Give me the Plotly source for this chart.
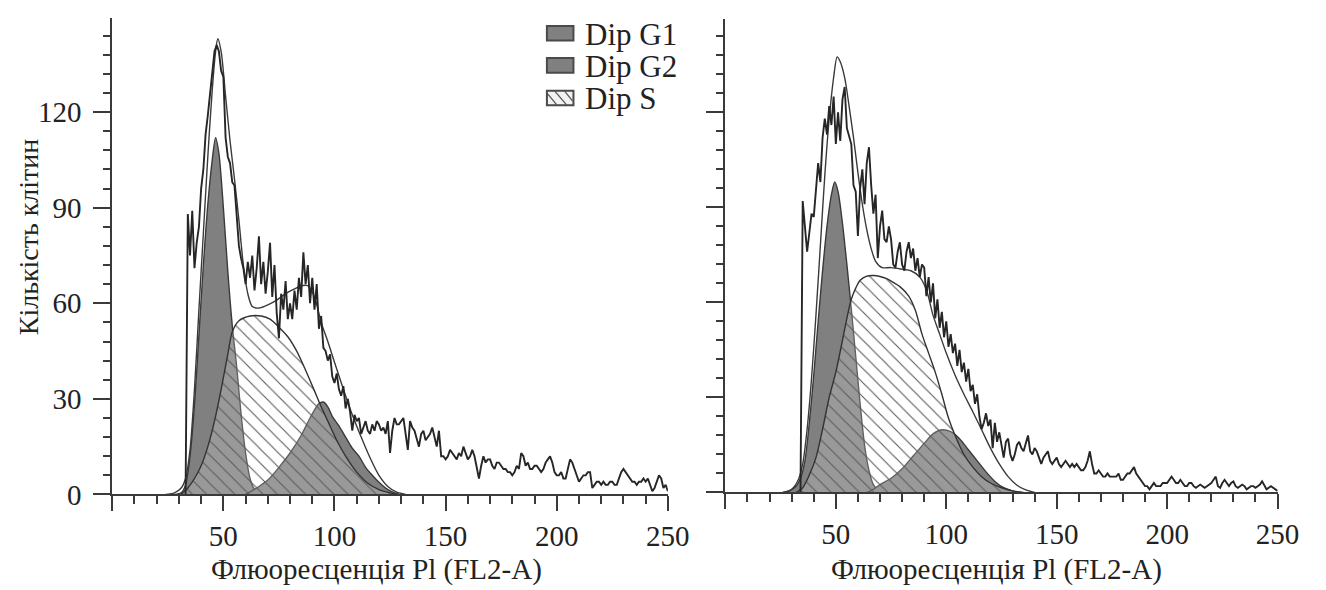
import plotly.graph_objects as go

# ---------------- DATA ----------------
# Left panel: raw histogram, channels 33..250
raw_left_x = list(range(33, 251))
raw_left_y = [
    0, 88, 75, 89, 71, 79, 84, 96, 102, 113,
    119, 126, 133, 139, 141, 139, 133, 131, 112, 106,
    104, 98, 97, 86, 78, 74, 71, 66, 73, 68,
    75, 64, 71, 81, 66, 73, 63, 70, 79, 62,
    72, 57, 49, 63, 58, 67, 55, 60, 55, 64,
    58, 68, 62, 76, 66, 72, 60, 68, 58, 66,
    52, 56, 46, 45, 42, 44, 37, 35, 38, 33,
    31, 34, 27, 30, 26, 20, 25, 23, 24, 19,
    21, 23, 20, 19, 22, 20, 23, 22, 20, 21,
    19, 23, 13, 20, 24, 22, 22, 23, 24, 19,
    14, 23, 21, 20, 17, 15, 19, 20, 17, 18,
    19, 21, 18, 15, 20, 12, 12, 11, 12, 14,
    13, 12, 11, 13, 12, 15, 13, 11, 12, 14,
    12, 9, 5, 9, 12, 10, 11, 11, 9, 8,
    10, 10, 9, 8, 8, 7, 7, 6, 7, 9,
    8, 13, 12, 9, 10, 8, 8, 9, 9, 8,
    7, 8, 10, 11, 12, 10, 7, 6, 6, 7,
    5, 5, 8, 11, 10, 8, 6, 4, 5, 6,
    6, 7, 7, 2, 3, 4, 4, 3, 4, 3,
    3, 4, 4, 3, 3, 5, 7, 8, 7, 6,
    5, 4, 4, 3, 4, 4, 5, 4, 5, 3,
    1, 2, 4, 6, 5, 2, 3, 1,
]
fit_left_x = [24, 28, 31, 33, 35, 37, 39, 41, 43, 45, 46.5, 47.5, 49, 51, 53, 55, 57, 59,
              61, 63, 66, 70, 74, 78, 82, 85, 88, 91, 94, 97, 100, 104, 108, 112, 116,
              120, 124, 128, 132]
fit_left_y = [0, 0.5, 2, 5, 14, 33, 58, 82, 106, 127, 139, 143, 139, 125, 111, 99, 86, 72,
              63, 59, 58.5, 59.5, 61, 63, 64.5, 65.5, 65.5, 62, 54, 48, 41.5, 33, 25, 18,
              11.5, 6, 2.5, 0.7, 0]
g1_left_x = [28, 31, 33, 35, 37, 39, 41, 43, 45, 46.5, 48, 50, 52, 54, 56, 58, 60, 62, 64, 66]
g1_left_y = [0, 0.5, 3, 12, 28, 50, 72, 91, 105, 112, 107, 90, 70, 53, 40, 25, 13, 5, 1.5, 0]
g2_left_x = [60, 63, 66, 70, 75, 80, 85, 89, 93, 95, 97, 99, 102, 105, 108, 111, 114, 117,
             120, 123, 126, 129]
g2_left_y = [0, 1.2, 2.5, 4.5, 8.5, 13, 18.5, 24, 28.5, 29, 27.5, 24.5, 21.5, 18, 14.5, 12,
             8.5, 6, 3.8, 2, 0.8, 0]
s_left_x = [31, 34, 37, 40, 43, 46, 49, 52, 54, 57, 62, 67, 71, 75, 79, 83, 87, 91, 94, 97,
            101, 105, 110, 115, 120, 125, 129]
s_left_y = [0, 2, 5, 9, 15, 23, 33, 44, 51, 54.5, 56, 56, 55, 52.5, 49.5, 45, 39, 32.5,
            27.5, 23, 17, 12, 7, 3.5, 1.5, 0.5, 0]

# Right panel: raw histogram, channels 34..250
raw_right_x = list(range(34, 251))
raw_right_y = [
    0, 92, 84, 76, 82, 88, 87, 96, 104, 98,
    112, 118, 113, 122, 116, 125, 110, 120, 111, 124,
    128, 115, 112, 110, 97, 95, 81, 96, 102, 91,
    104, 109, 97, 88, 94, 74, 84, 89, 80, 79,
    84, 80, 72, 71, 76, 79, 72, 70, 76, 79,
    74, 77, 70, 74, 68, 72, 71, 62, 68, 60,
    66, 55, 61, 52, 57, 49, 54, 46, 50, 44,
    47, 40, 45, 38, 41, 35, 39, 32, 34, 28,
    31, 24, 20, 22, 25, 21, 23, 14, 22, 16,
    19, 15, 11, 16, 17, 12, 10, 12, 15, 16,
    14, 13, 16, 18, 13, 12, 14, 13, 11, 9,
    11, 12, 13, 10, 9, 10, 11, 9, 8, 9,
    10, 9, 8, 9, 8, 9, 8, 7, 7, 8,
    10, 13, 9, 6, 6, 7, 6, 5, 5, 6,
    5, 5, 5, 5, 6, 4, 4, 5, 6, 6,
    7, 8, 6, 5, 4, 3, 2, 2, 1, 2,
    3, 2, 2, 2, 3, 3, 3, 4, 5, 4,
    3, 3, 4, 3, 2, 2, 3, 3, 2, 1.5,
    2, 2.5, 2, 1.5, 2, 2.5, 3, 4, 5, 2,
    1.5, 3, 4, 3, 2, 3, 3.5, 2, 1.5, 2,
    2.5, 2, 1, 1.5, 2, 2, 1.5, 2, 2.5, 3.5,
    2, 1, 1.5, 2, 1.5, 1, 0.5,
]
fit_right_x = [26, 30, 33, 35, 37, 39, 41, 43, 45, 47, 49, 50.6, 52, 54, 56, 58, 60, 62, 64,
               66, 68, 71, 75, 80, 84, 88, 91, 94, 97, 100, 104, 108, 112, 116, 120, 124,
               128, 132, 136, 140]
fit_right_y = [0, 1, 4, 9, 20, 36, 56, 78, 100, 118, 131, 137.5, 136, 131, 122, 112, 101,
               91, 83, 77, 73, 71, 71, 70.5, 70, 68, 64, 56, 50, 44, 37, 31, 25.5, 19.8,
               14, 9, 5, 2.3, 0.8, 0]
g1_right_x = [26, 29, 32, 34, 36, 38, 40, 42, 44, 46, 48, 49.5, 51, 53, 55, 57, 59, 61, 63,
              65, 67, 69, 72]
g1_right_y = [0, 0.5, 2, 4.5, 10, 22, 37, 54, 70, 84, 94, 98, 95, 85, 72, 58, 43, 28, 15,
              7, 2.5, 0.8, 0]
g2_right_x = [64, 67, 70, 75, 80, 85, 90, 94, 98, 102, 106, 110, 114, 118, 122, 126, 130, 134]
g2_right_y = [0, 1, 2.5, 4.5, 7.5, 11.5, 15.5, 18.5, 19.8, 19.2, 17, 13.5, 10, 6.5, 3.5,
              1.5, 0.5, 0]
s_right_x = [32, 35, 38, 41, 44, 47, 50, 53, 55, 57, 59, 61, 64, 67, 70, 73, 76, 79, 83, 86,
             89, 92, 95, 98, 101, 104, 108, 112, 116, 120, 125, 130, 135]
s_right_y = [0, 1.5, 5.5, 11, 20, 30, 38, 48, 55, 61, 64.5, 67, 68.3, 68.5, 68.2, 67.5,
             66.3, 65, 62, 57.5, 50, 44, 38, 31, 23.5, 18, 12, 8, 5, 3, 1.5, 0.5, 0]

x_tick_vals = [0, 50, 100, 150, 200, 250]
x_tick_text = ["", "50", "100", "150", "200", "250"]
y_tick_vals = [0, 30, 60, 90, 120]
y_tick_text = ["0", "30", "60", "90", "120"]
legend_names = ["Dip G1", "Dip G2", "Dip S"]
x_title = "Флюоресценція Pl (FL2-A)"
y_title = "Кількість клітин"

# ---------------- STYLE ----------------
W, H = 1326, 590
FONT = "Liberation Serif"
INK = "#222222"
AX = "#3a3a3a"
GRAY = "#808080"
HATCH = dict(shape="\\", fgcolor="#5a5a5a", bgcolor="rgba(255,255,255,0.2)",
             size=10, solidity=0.11, fillmode="replace")

fig = go.Figure()


def add_panel(xa, ya, rx, ry, fx, fy, g1x, g1y, g2x, g2y, sx, sy):
    common = dict(xaxis=xa, yaxis=ya, hoverinfo="skip", showlegend=False, mode="lines")
    smooth = dict(shape="spline", smoothing=0.8)
    fig.add_trace(go.Scatter(x=g1x, y=g1y, fill="tozeroy", fillcolor=GRAY,
                             line=dict(color="#3a3a3a", width=1.4, **smooth), **common))
    fig.add_trace(go.Scatter(x=g2x, y=g2y, fill="tozeroy", fillcolor=GRAY,
                             line=dict(color="#3a3a3a", width=1.4, **smooth), **common))
    fig.add_trace(go.Scatter(x=sx, y=sy, fill="tozeroy", fillcolor="rgba(255,255,255,0.2)",
                             fillpattern=HATCH,
                             line=dict(color="#333333", width=1.4, **smooth), **common))
    fig.add_trace(go.Scatter(x=fx, y=fy, line=dict(color="#3a3a3a", width=1.4, **smooth),
                             **common))
    fig.add_trace(go.Scatter(x=rx, y=ry, line=dict(color="#262626", width=1.9), **common))


add_panel("x", "y", raw_left_x, raw_left_y, fit_left_x, fit_left_y,
          g1_left_x, g1_left_y, g2_left_x, g2_left_y, s_left_x, s_left_y)
add_panel("x2", "y2", raw_right_x, raw_right_y, fit_right_x, fit_right_y,
          g1_right_x, g1_right_y, g2_right_x, g2_right_y, s_right_x, s_right_y)


def xaxis_cfg(x0px, x1px):
    return dict(domain=[x0px / W, x1px / W], range=[0, 250], showline=True, linecolor=AX,
                linewidth=2, ticks="outside", ticklen=15, tickwidth=2, tickcolor=AX,
                tickmode="array", tickvals=x_tick_vals, ticktext=x_tick_text,
                tickfont=dict(family=FONT, size=29, color=INK), ticklabelstandoff=0,
                minor=dict(ticks="outside", ticklen=8, tickwidth=2, tickcolor=AX,
                           tickmode="linear", tick0=0, dtick=10, showgrid=False),
                showgrid=False, zeroline=False, fixedrange=True)


def yaxis_cfg(y0px, scale, labels):
    top = y0px - 149.5 * scale
    return dict(domain=[1 - y0px / H, 1 - top / H], range=[0, 149.5], showline=True,
                linecolor=AX, linewidth=2, ticks="outside", ticklen=17, tickwidth=2,
                tickcolor=AX, tickmode="array", tickvals=y_tick_vals, ticktext=y_tick_text,
                showticklabels=labels, tickfont=dict(family=FONT, size=29, color=INK),
                ticklabelstandoff=6,
                minor=dict(ticks="outside", ticklen=7, tickwidth=2, tickcolor=AX,
                           tickmode="linear", tick0=0, dtick=6, showgrid=False),
                showgrid=False, zeroline=False, fixedrange=True)


xa1 = xaxis_cfg(106, 671)
xa1["anchor"] = "y"
ya1 = yaxis_cfg(500, 3.275, True)
ya1["anchor"] = "x"
xa2 = xaxis_cfg(729.5, 1291)
xa2["anchor"] = "y2"
ya2 = yaxis_cfg(498, 3.256, False)
ya2["anchor"] = "x2"

annotations = [
    dict(text=y_title, x=21 / W, y=1 - 235 / H, xref="paper", yref="paper",
         textangle=-90, showarrow=False, xanchor="center", yanchor="middle",
         font=dict(family=FONT, size=28, color=INK)),
    dict(text=x_title, x=375 / W, y=1 - 577 / H, xref="paper", yref="paper",
         showarrow=False, xanchor="center", yanchor="middle",
         font=dict(family=FONT, size=29, color=INK)),
    dict(text=x_title, x=1005 / W, y=1 - 577 / H, xref="paper", yref="paper",
         showarrow=False, xanchor="center", yanchor="middle",
         font=dict(family=FONT, size=29, color=INK)),
]
shapes = []
row_centers = [26, 59, 92.5]
for name, cy in zip(legend_names, row_centers):
    annotations.append(dict(text=name, x=585 / W, y=1 - (cy + 1) / H, xref="paper",
                            yref="paper", showarrow=False, xanchor="left", yanchor="middle",
                            font=dict(family=FONT, size=31, color=INK)))
    fill = GRAY if name != "Dip S" else "#f2f2f2"
    shapes.append(dict(type="rect", xref="paper", yref="paper",
                       x0=548 / W, x1=575 / W, y0=1 - (cy + 7.5) / H, y1=1 - (cy - 7.5) / H,
                       fillcolor=fill, line=dict(color="#4a4a4a", width=2)))
    if name == "Dip S":
        for a, b, c, d in [(549, cy - 4, 558, cy + 7), (556, cy - 7, 568, cy + 7),
                           (566, cy - 7, 574, cy + 3)]:
            shapes.append(dict(type="line", xref="paper", yref="paper",
                               x0=a / W, y0=1 - b / H, x1=c / W, y1=1 - d / H,
                               line=dict(color="#555555", width=1.3)))

fig.update_layout(width=W, height=H, autosize=False,
                  margin=dict(l=0, r=0, t=0, b=0, pad=0),
                  paper_bgcolor="white", plot_bgcolor="white",
                  xaxis=xa1, yaxis=ya1, xaxis2=xa2, yaxis2=ya2,
                  annotations=annotations, shapes=shapes, showlegend=False)

fig.write_html("out.html")
